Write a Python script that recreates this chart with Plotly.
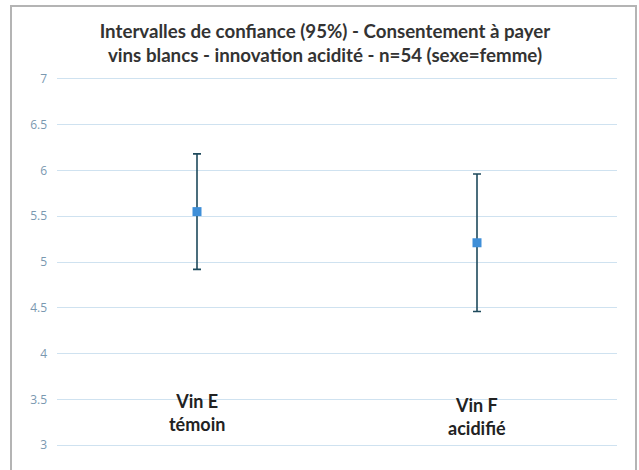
import plotly.graph_objects as go

categories = ["Vin E<br>témoin", "Vin F<br>acidifié"]
means = [5.55, 5.21]
ci_half = [0.63, 0.75]
label_y = [3.36, 3.31]
yticks = [3, 3.5, 4, 4.5, 5, 5.5, 6, 6.5, 7]
ytick_text = ["3", "3.5", "4", "4.5", "5", "5.5", "6", "6.5", "7"]
title_text = ("Intervalles de confiance (95%) - Consentement à payer<br>"
              "vins blancs - innovation acidité - n=54 (sexe=femme)")

fig = go.Figure()
fig.add_trace(go.Scatter(
    x=[0, 1], y=means, mode="markers",
    marker=dict(symbol="square", size=9, color="#3f8fd8"),
    error_y=dict(type="data", array=ci_half, visible=True,
                 color="#1e4a5c", thickness=1.6, width=4),
    showlegend=False, hoverinfo="skip",
))

for i, (c, ly) in enumerate(zip(categories, label_y)):
    fig.add_annotation(x=i, y=ly, xref="x", yref="y", text="<b>" + c + "</b>",
                       showarrow=False, font=dict(family="Lato", size=18, color="#222222"),
                       align="center")

# plot area: x 57..617, y 76..448 (372 px)
fig.add_shape(type="rect", xref="paper", yref="paper",
              x0=(11 - 57) / 560, x1=(636 - 57) / 560,
              y0=(448 - 480) / 372, y1=(448 - 6) / 372,
              line=dict(color="#b4b4b4", width=2), fillcolor="rgba(0,0,0,0)", layer="below")

fig.update_layout(
    width=639, height=470,
    margin=dict(l=57, r=22, t=76, b=22),
    paper_bgcolor="white", plot_bgcolor="white",
    title=dict(text="<b>" + title_text + "</b>", x=(325 - 57) / 560, xref="paper",
               xanchor="center", y=1 - 38 / 470, yanchor="middle",
               font=dict(family="Lato", size=18.7, color="#333333")),
    xaxis=dict(range=[-0.5, 1.5], showticklabels=False, showgrid=False,
               zeroline=False, showline=False, fixedrange=True),
    yaxis=dict(range=[2.97, 7.03], tickvals=yticks, ticktext=ytick_text,
               showgrid=True, gridcolor="#cfe2f0", gridwidth=1, zeroline=False,
               showline=False, ticks="", ticklabelstandoff=9,
               tickfont=dict(family="Open Sans", size=12, color="#7a98b0")),
)

fig.write_html("out.html", config={"displayModeBar": False},
               post_script="document.body.style.margin='0';document.body.style.overflow='hidden';")
